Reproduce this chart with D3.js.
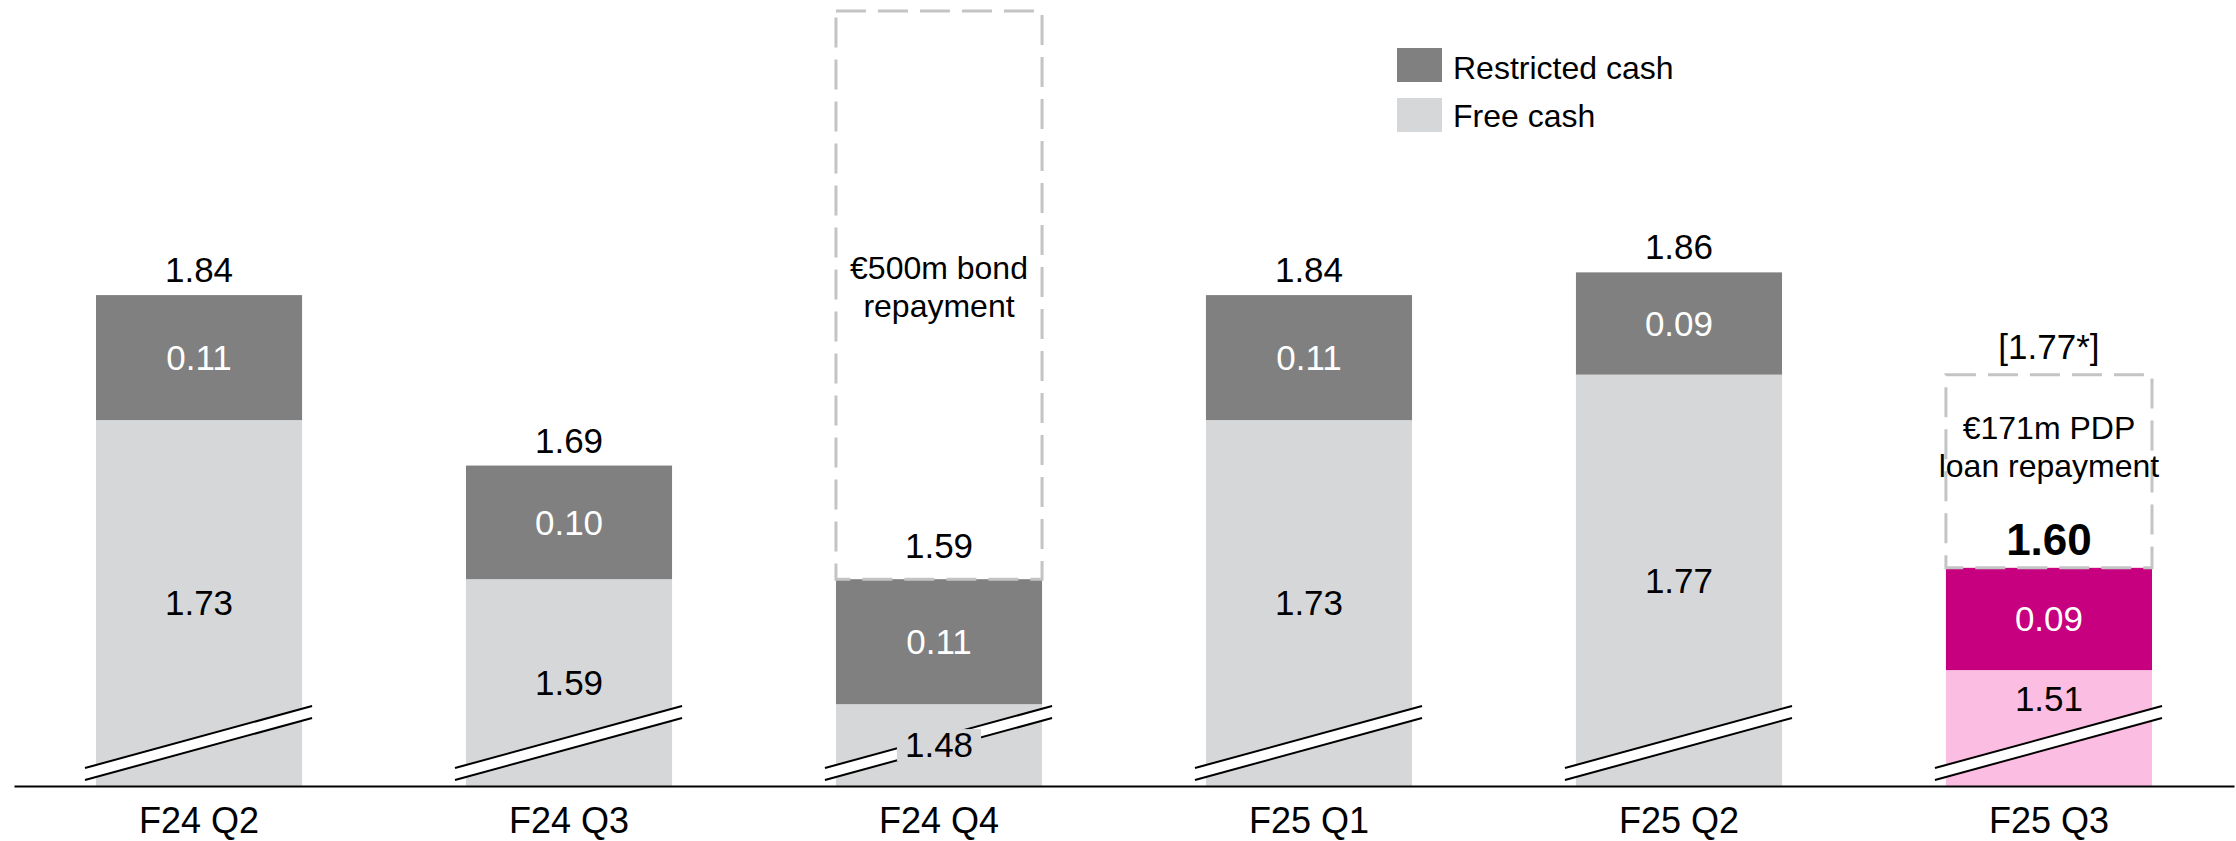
<!DOCTYPE html>
<html>
<head>
<meta charset="utf-8">
<script src="https://cdn.jsdelivr.net/npm/d3@7"></script>
<style>
  html, body { margin: 0; padding: 0; background: #ffffff; }
  svg { display: block; font-family: "Liberation Sans", Arial, sans-serif; }
</style>
</head>
<body>
<svg id="chart" width="2236" height="841"></svg>
<script>
// ---- data ----
const categories = ["F24 Q2", "F24 Q3", "F24 Q4", "F25 Q1", "F25 Q2", "F25 Q3"];
const freeCash = [1.73, 1.59, 1.48, 1.73, 1.77, 1.51];
const restrictedCash = [0.11, 0.10, 0.11, 0.11, 0.09, 0.09];
const totalLabels = ["1.84", "1.69", "1.59", "1.84", "1.86", "1.60"];
const freeLabels = ["1.73", "1.59", "1.48", "1.73", "1.77", "1.51"];
const restrictedLabels = ["0.11", "0.10", "0.11", "0.11", "0.09", "0.09"];
const highlightCategory = "F25 Q3";
const ghostCategories = ["F24 Q4", "F25 Q3"];
const ghostTops = [2.09, 1.77];
const ghostLines = [["€500m bond", "repayment"], ["€171m PDP", "loan repayment"]];
const ghostLabels = ["", "[1.77*]"];
const legendLabels = ["Restricted cash", "Free cash"];
const axisFloor = 1.408;   // broken axis: bars start here
const axisCeil = 2.09;

// ---- styles ----
const C = {
  restricted: "#808080", free: "#d6d7d9",
  restrictedHi: "#c6007e", freeHi: "#fcbde2",
  ghost: "#c4c4c4", text: "#000000"
};

const svg = d3.select("#chart");
const x = d3.scaleBand().domain(categories).range([14, 2234]).paddingInner(0.443).paddingOuter(0.2216);
const y = d3.scaleLinear().domain([axisFloor, axisCeil]).range([786, 11]);
const bw = x.bandwidth();
const base = y(axisFloor);

const rows = categories.map((c, i) => ({
  c, i, free: freeCash[i], restr: restrictedCash[i],
  total: +(freeCash[i] + restrictedCash[i]).toFixed(2),
  hi: c === highlightCategory
}));

// bars
const g = svg.append("g");
g.selectAll("rect.free").data(rows).join("rect")
  .attr("x", d => x(d.c)).attr("width", bw)
  .attr("y", d => y(d.free)).attr("height", d => base - y(d.free))
  .attr("fill", d => d.hi ? C.freeHi : C.free);
g.selectAll("rect.restr").data(rows).join("rect")
  .attr("x", d => x(d.c)).attr("width", bw)
  .attr("y", d => y(d.total)).attr("height", d => y(d.free) - y(d.total))
  .attr("fill", d => d.hi ? C.restrictedHi : C.restricted);

// axis break marks
const brk = svg.append("g");
rows.forEach(d => {
  const x0 = x(d.c) - 11, x1 = x(d.c) + bw + 10;
  const yl0 = base - 6, yl1 = base - 68, gap = 12;
  brk.append("path")
    .attr("d", `M${x0},${yl0} L${x1},${yl1} L${x1},${yl1 - gap} L${x0},${yl0 - gap} Z`)
    .attr("fill", "#ffffff");
  [0, gap].forEach(o => brk.append("line")
    .attr("x1", x0).attr("y1", yl0 - o).attr("x2", x1).attr("y2", yl1 - o)
    .attr("stroke", "#000").attr("stroke-width", 2));
});

// ghost (dashed) boxes
ghostCategories.forEach((c, k) => {
  const d = rows.find(r => r.c === c);
  const top = y(ghostTops[k]), bot = y(d.total);
  svg.append("rect").attr("x", x(c)).attr("y", top).attr("width", bw).attr("height", bot - top)
    .attr("fill", "none").attr("stroke", C.ghost).attr("stroke-width", 3)
    .attr("stroke-dasharray", "30,12");
  const h = bot - top;
  const cy = h > 300 ? (top + bot) / 2 - 8 : top + 72;
  ghostLines[k].forEach((t, j) => svg.append("text")
    .attr("x", x(c) + bw / 2).attr("y", cy - 8 + j * 38)
    .attr("text-anchor", "middle").attr("font-size", 32).attr("fill", C.text).text(t));
  if (ghostLabels[k]) svg.append("text")
    .attr("x", x(c) + bw / 2).attr("y", top - 16)
    .attr("text-anchor", "middle").attr("font-size", 35).attr("fill", C.text).text(ghostLabels[k]);
});

// labels
rows.forEach(d => {
  const cx = x(d.c) + bw / 2;
  const isGhost = ghostCategories.includes(d.c);
  // total
  svg.append("text").attr("x", cx)
    .attr("y", y(d.total) - (isGhost && !d.hi ? 21 : 13))
    .attr("text-anchor", "middle")
    .attr("font-size", d.hi ? 44 : 35).attr("font-weight", d.hi ? "bold" : "normal")
    .attr("fill", C.text).text(totalLabels[d.i]);
  // restricted
  svg.append("text").attr("x", cx).attr("y", (y(d.total) + y(d.free)) / 2)
    .attr("dy", "0.35em").attr("text-anchor", "middle").attr("font-size", 35)
    .attr("fill", "#ffffff").text(restrictedLabels[d.i]);
  // free
  const fy = d.hi ? y(d.free) + 29 : (y(d.free) + base) / 2;
  const t = svg.append("text").attr("x", cx).attr("y", fy)
    .attr("dy", "0.35em").attr("text-anchor", "middle").attr("font-size", 35)
    .attr("fill", C.text).text(freeLabels[d.i]);
  const bb = t.node().getBBox();
  svg.insert("rect", () => t.node())
    .attr("x", bb.x - 8).attr("y", fy - 16).attr("width", bb.width + 16).attr("height", 32)
    .attr("fill", d.hi ? C.freeHi : C.free);
});

// x axis
const ax = svg.append("g").attr("transform", `translate(0,${base})`)
  .call(d3.axisBottom(x).tickSize(0).tickSizeOuter(0).tickPadding(21));
ax.select(".domain").attr("stroke", "#000").attr("stroke-width", 2);
ax.selectAll("text").attr("font-size", 36).attr("fill", C.text)
  .attr("font-family", "'Liberation Sans', Arial, sans-serif");

// legend
const lg = svg.append("g");
legendLabels.forEach((l, i) => {
  lg.append("rect").attr("x", 1397).attr("y", 48 + i * 50).attr("width", 45).attr("height", 34)
    .attr("fill", i === 0 ? C.restricted : C.free);
  lg.append("text").attr("x", 1453).attr("y", 79 + i * 48).attr("font-size", 32)
    .attr("fill", C.text).text(l);
});
</script>
</body>
</html>
